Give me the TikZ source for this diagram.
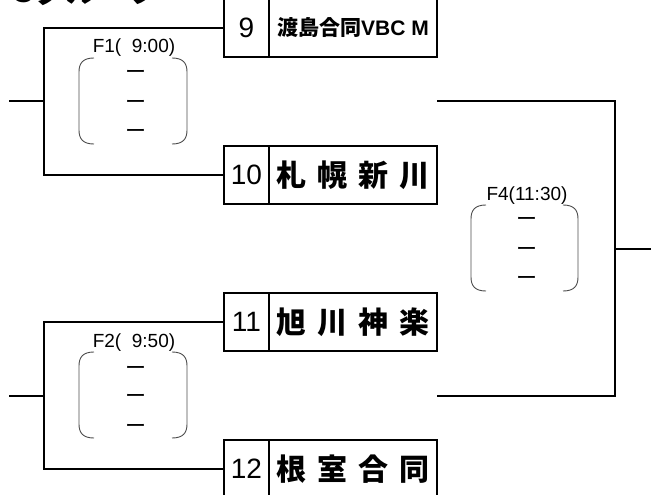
\documentclass[tikz,border=0pt]{standalone}
\usepackage{fontspec}
\setmainfont{Liberation Sans}
\newfontfamily\jp{Noto Sans CJK JP}
\begin{document}
\begin{tikzpicture}[x=1pt,y=-1pt,
  ln/.style={line width=2pt},
  cell/.style={draw,line width=2pt,minimum height=58pt,inner sep=0pt},
  numcell/.style={cell,minimum width=45pt,font=\fontsize{28}{28}\selectfont},
  namecell/.style={cell,minimum width=168pt,font=\jp\bfseries\fontsize{30}{30}\selectfont},
  brk/.style={line width=0.9pt,black!70},
  lbl/.style={font=\fontsize{19}{19}\selectfont,inner sep=0pt},
  dashmark/.style={font=\jp\fontsize{21}{21}\selectfont,inner sep=0pt}]
\useasboundingbox (0,0) rectangle (651,495);
\clip (0,0) rectangle (651,495);

% cut-off heading
\node[anchor=base west,inner sep=0pt,font=\bfseries\fontsize{32}{32}\selectfont] (head) at (11,2.5) {C{\jp グループ}};

% team boxes
\node[numcell] (num9) at (246.5,28) {9};
\node[namecell,font=\bfseries\fontsize{21}{21}\selectfont] (name9) at (353,28) {{\jp 渡島合同}VBC M};
\node[numcell] (num10) at (246.5,175) {10};
\node[namecell] (name10) at (353,175) {札\hspace{11pt}幌\hspace{11pt}新\hspace{11pt}川};
\node[numcell] (num11) at (246.5,322) {11};
\node[namecell] (name11) at (353,322) {旭\hspace{11pt}川\hspace{11pt}神\hspace{11pt}楽};
\node[numcell] (num12) at (246.5,469) {12};
\node[namecell] (name12) at (353,469) {根\hspace{11pt}室\hspace{11pt}合\hspace{11pt}同};

% bracket F1
\coordinate (j1) at (44,101.5);
\coordinate (e1) at (9,101.5);
\draw[ln] (num9.west) -| (j1) |- (num10.west);
\draw[ln] (e1) -- (j1);
% bracket F2
\coordinate (j2) at (44,395.5);
\coordinate (e2) at (9,395.5);
\draw[ln] (num11.west) -| (j2) |- (num12.west);
\draw[ln] (e2) -- (j2);
% bracket F4
\coordinate (o1) at (437,101.5);
\coordinate (o2) at (437,395.5);
\coordinate (j4) at (615,248.5);
\coordinate (e4) at (651,248.5);
\draw[ln] (o1) -| (j4) |- (o2);
\draw[ln] (j4) -- (e4);

% match labels
\node[lbl] (l1) at (134,48) {F1( \kern.28em9:00)};
\node[lbl] (l2) at (134,343) {F2( \kern.28em9:50)};
\node[lbl] (l4) at (527,196) {F4(11:30)};

% score brackets
\foreach \cx/\tp/\bt/\hw in {133/58/144/54, 133/352/438/54, 524.5/205/291/53.5}{
  \draw[brk] (\cx-\hw+15,\tp) .. controls (\cx-\hw+4,\tp) and (\cx-\hw,\tp+5) .. (\cx-\hw,\tp+14)
     -- (\cx-\hw,\bt-14) .. controls (\cx-\hw,\bt-5) and (\cx-\hw+4,\bt) .. (\cx-\hw+15,\bt);
  \draw[brk] (\cx+\hw-15,\tp) .. controls (\cx+\hw-4,\tp) and (\cx+\hw,\tp+5) .. (\cx+\hw,\tp+14)
     -- (\cx+\hw,\bt-14) .. controls (\cx+\hw,\bt-5) and (\cx+\hw-4,\bt) .. (\cx+\hw-15,\bt);
}

% score dashes
\node[dashmark] (d11) at (135.5,75) {ー};
\node[dashmark] (d12) at (135.5,105) {ー};
\node[dashmark] (d13) at (135.5,134) {ー};
\node[dashmark] (d21) at (135.5,371) {ー};
\node[dashmark] (d22) at (135.5,399) {ー};
\node[dashmark] (d23) at (135.5,429) {ー};
\node[dashmark] (d41) at (527,222) {ー};
\node[dashmark] (d42) at (527,252) {ー};
\node[dashmark] (d43) at (527,281) {ー};
\end{tikzpicture}
\end{document}
